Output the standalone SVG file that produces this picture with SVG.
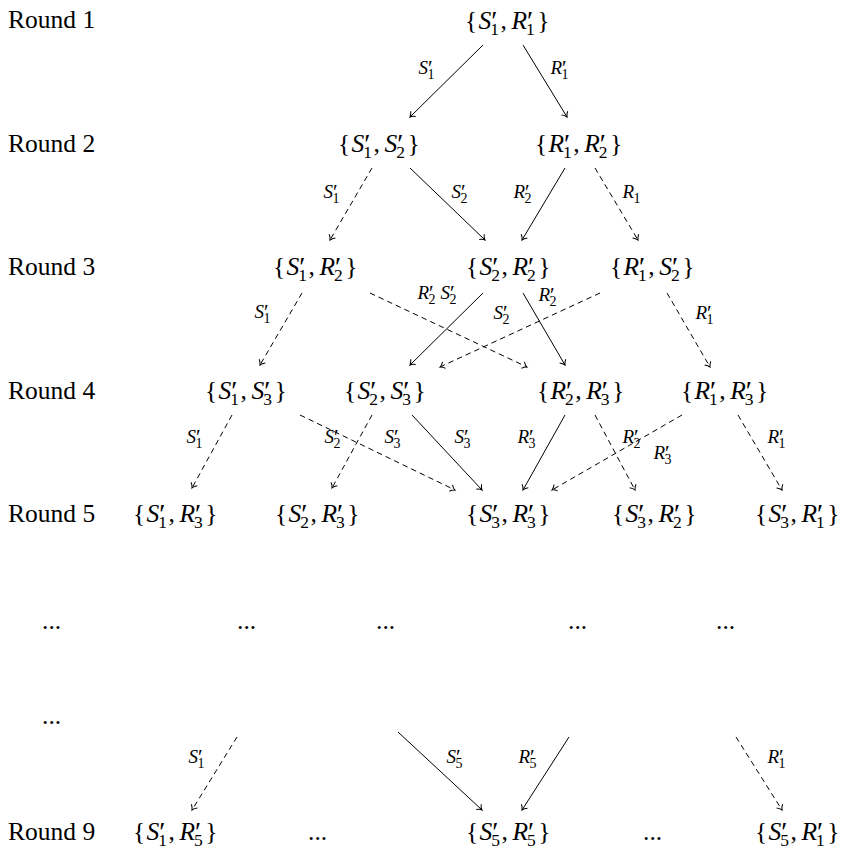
<svg xmlns="http://www.w3.org/2000/svg" width="842" height="853" viewBox="0 0 842 853">
<style>
text{font-family:"Liberation Serif","Times New Roman",serif;fill:#000}
.m{font-size:25.5px}
.i{font-style:italic}
.s{font-size:17.5px}
.p{font-size:28px}
.al{font-size:19px}
.as{font-size:14px}
.ap{font-size:21px}
.e{fill:none;stroke:#000;stroke-width:1;marker-end:url(#ah)}
.d{stroke-dasharray:5.5 4}
</style>
<defs>
<marker id="ah" markerUnits="userSpaceOnUse" viewBox="-6 -5 7 10" refX="0" refY="0" markerWidth="7" markerHeight="10" orient="auto" overflow="visible">
<path d="M-4.5,-3.6 C-3,-1.6 -1.2,-0.4 0,0 C-1.2,0.4 -3,1.6 -4.5,3.6" fill="none" stroke="#000" stroke-width="1" stroke-dasharray="none"/>
</marker>
</defs>
<rect width="842" height="853" fill="#fff"/>
<g id="round-labels">
<text x="8" y="28" class="m">Round 1</text>
<text x="8" y="152" class="m">Round 2</text>
<text x="8" y="275" class="m">Round 3</text>
<text x="8" y="399" class="m">Round 4</text>
<text x="8" y="522" class="m">Round 5</text>
<text x="42" y="629" class="m">...</text>
<text x="42" y="724" class="m">...</text>
<text x="8" y="840" class="m">Round 9</text>
</g>
<g id="n1" transform="translate(465,29)"><text class="m"><tspan x="0">{</tspan><tspan class="i" x="13.5">S</tspan><tspan class="s" x="25.25" y="6">1</tspan><tspan class="p" x="26.25" y="1">′</tspan><tspan x="35.5" y="0">,</tspan><tspan class="i" x="46.4">R</tspan><tspan class="s" x="61" y="6">1</tspan><tspan class="p" x="62" y="1">′</tspan><tspan x="72.2" y="0">}</tspan></text></g>
<g id="n2a" transform="translate(338,152)"><text class="m"><tspan x="0">{</tspan><tspan class="i" x="13.5">S</tspan><tspan class="s" x="25.25" y="6">1</tspan><tspan class="p" x="26.25" y="1">′</tspan><tspan x="35.5" y="0">,</tspan><tspan class="i" x="46.4">S</tspan><tspan class="s" x="58.15" y="6">2</tspan><tspan class="p" x="59.15" y="1">′</tspan><tspan x="69.4" y="0">}</tspan></text></g>
<g id="n2b" transform="translate(535,152)"><text class="m"><tspan x="0">{</tspan><tspan class="i" x="13.5">R</tspan><tspan class="s" x="28.1" y="6">1</tspan><tspan class="p" x="29.1" y="1">′</tspan><tspan x="38.3" y="0">,</tspan><tspan class="i" x="49.2">R</tspan><tspan class="s" x="63.8" y="6">2</tspan><tspan class="p" x="64.8" y="1">′</tspan><tspan x="75" y="0">}</tspan></text></g>
<g id="n3a" transform="translate(273,275)"><text class="m"><tspan x="0">{</tspan><tspan class="i" x="13.5">S</tspan><tspan class="s" x="25.25" y="6">1</tspan><tspan class="p" x="26.25" y="1">′</tspan><tspan x="35.5" y="0">,</tspan><tspan class="i" x="46.4">R</tspan><tspan class="s" x="61" y="6">2</tspan><tspan class="p" x="62" y="1">′</tspan><tspan x="72.2" y="0">}</tspan></text></g>
<g id="n3b" transform="translate(466,275)"><text class="m"><tspan x="0">{</tspan><tspan class="i" x="13.5">S</tspan><tspan class="s" x="25.25" y="6">2</tspan><tspan class="p" x="26.25" y="1">′</tspan><tspan x="35.5" y="0">,</tspan><tspan class="i" x="46.4">R</tspan><tspan class="s" x="61" y="6">2</tspan><tspan class="p" x="62" y="1">′</tspan><tspan x="72.2" y="0">}</tspan></text></g>
<g id="n3c" transform="translate(610,275)"><text class="m"><tspan x="0">{</tspan><tspan class="i" x="13.5">R</tspan><tspan class="s" x="28.1" y="6">1</tspan><tspan class="p" x="29.1" y="1">′</tspan><tspan x="38.3" y="0">,</tspan><tspan class="i" x="49.2">S</tspan><tspan class="s" x="60.95" y="6">2</tspan><tspan class="p" x="61.95" y="1">′</tspan><tspan x="72.2" y="0">}</tspan></text></g>
<g id="n4a" transform="translate(205,399)"><text class="m"><tspan x="0">{</tspan><tspan class="i" x="13.5">S</tspan><tspan class="s" x="25.25" y="6">1</tspan><tspan class="p" x="26.25" y="1">′</tspan><tspan x="35.5" y="0">,</tspan><tspan class="i" x="46.4">S</tspan><tspan class="s" x="58.15" y="6">3</tspan><tspan class="p" x="59.15" y="1">′</tspan><tspan x="69.4" y="0">}</tspan></text></g>
<g id="n4b" transform="translate(344,399)"><text class="m"><tspan x="0">{</tspan><tspan class="i" x="13.5">S</tspan><tspan class="s" x="25.25" y="6">2</tspan><tspan class="p" x="26.25" y="1">′</tspan><tspan x="35.5" y="0">,</tspan><tspan class="i" x="46.4">S</tspan><tspan class="s" x="58.15" y="6">3</tspan><tspan class="p" x="59.15" y="1">′</tspan><tspan x="69.4" y="0">}</tspan></text></g>
<g id="n4c" transform="translate(537,399)"><text class="m"><tspan x="0">{</tspan><tspan class="i" x="13.5">R</tspan><tspan class="s" x="28.1" y="6">2</tspan><tspan class="p" x="29.1" y="1">′</tspan><tspan x="38.3" y="0">,</tspan><tspan class="i" x="49.2">R</tspan><tspan class="s" x="63.8" y="6">3</tspan><tspan class="p" x="64.8" y="1">′</tspan><tspan x="75" y="0">}</tspan></text></g>
<g id="n4d" transform="translate(681,399)"><text class="m"><tspan x="0">{</tspan><tspan class="i" x="13.5">R</tspan><tspan class="s" x="28.1" y="6">1</tspan><tspan class="p" x="29.1" y="1">′</tspan><tspan x="38.3" y="0">,</tspan><tspan class="i" x="49.2">R</tspan><tspan class="s" x="63.8" y="6">3</tspan><tspan class="p" x="64.8" y="1">′</tspan><tspan x="75" y="0">}</tspan></text></g>
<g id="n5a" transform="translate(133,522)"><text class="m"><tspan x="0">{</tspan><tspan class="i" x="13.5">S</tspan><tspan class="s" x="25.25" y="6">1</tspan><tspan class="p" x="26.25" y="1">′</tspan><tspan x="35.5" y="0">,</tspan><tspan class="i" x="46.4">R</tspan><tspan class="s" x="61" y="6">3</tspan><tspan class="p" x="62" y="1">′</tspan><tspan x="72.2" y="0">}</tspan></text></g>
<g id="n5b" transform="translate(275,522)"><text class="m"><tspan x="0">{</tspan><tspan class="i" x="13.5">S</tspan><tspan class="s" x="25.25" y="6">2</tspan><tspan class="p" x="26.25" y="1">′</tspan><tspan x="35.5" y="0">,</tspan><tspan class="i" x="46.4">R</tspan><tspan class="s" x="61" y="6">3</tspan><tspan class="p" x="62" y="1">′</tspan><tspan x="72.2" y="0">}</tspan></text></g>
<g id="n5c" transform="translate(466,522)"><text class="m"><tspan x="0">{</tspan><tspan class="i" x="13.5">S</tspan><tspan class="s" x="25.25" y="6">3</tspan><tspan class="p" x="26.25" y="1">′</tspan><tspan x="35.5" y="0">,</tspan><tspan class="i" x="46.4">R</tspan><tspan class="s" x="61" y="6">3</tspan><tspan class="p" x="62" y="1">′</tspan><tspan x="72.2" y="0">}</tspan></text></g>
<g id="n5d" transform="translate(612,522)"><text class="m"><tspan x="0">{</tspan><tspan class="i" x="13.5">S</tspan><tspan class="s" x="25.25" y="6">3</tspan><tspan class="p" x="26.25" y="1">′</tspan><tspan x="35.5" y="0">,</tspan><tspan class="i" x="46.4">R</tspan><tspan class="s" x="61" y="6">2</tspan><tspan class="p" x="62" y="1">′</tspan><tspan x="72.2" y="0">}</tspan></text></g>
<g id="n5e" transform="translate(755,522)"><text class="m"><tspan x="0">{</tspan><tspan class="i" x="13.5">S</tspan><tspan class="s" x="25.25" y="6">3</tspan><tspan class="p" x="26.25" y="1">′</tspan><tspan x="35.5" y="0">,</tspan><tspan class="i" x="46.4">R</tspan><tspan class="s" x="61" y="6">1</tspan><tspan class="p" x="62" y="1">′</tspan><tspan x="72.2" y="0">}</tspan></text></g>
<g id="dots-row">
<text class="m" x="237" y="629">...</text>
<text class="m" x="376" y="629">...</text>
<text class="m" x="568" y="629">...</text>
<text class="m" x="716" y="629">...</text>
</g>
<g id="n9a" transform="translate(133,840)"><text class="m"><tspan x="0">{</tspan><tspan class="i" x="13.5">S</tspan><tspan class="s" x="25.25" y="6">1</tspan><tspan class="p" x="26.25" y="1">′</tspan><tspan x="35.5" y="0">,</tspan><tspan class="i" x="46.4">R</tspan><tspan class="s" x="61" y="6">5</tspan><tspan class="p" x="62" y="1">′</tspan><tspan x="72.2" y="0">}</tspan></text></g>
<g id="n9b" transform="translate(466,840)"><text class="m"><tspan x="0">{</tspan><tspan class="i" x="13.5">S</tspan><tspan class="s" x="25.25" y="6">5</tspan><tspan class="p" x="26.25" y="1">′</tspan><tspan x="35.5" y="0">,</tspan><tspan class="i" x="46.4">R</tspan><tspan class="s" x="61" y="6">5</tspan><tspan class="p" x="62" y="1">′</tspan><tspan x="72.2" y="0">}</tspan></text></g>
<g id="n9c" transform="translate(755,840)"><text class="m"><tspan x="0">{</tspan><tspan class="i" x="13.5">S</tspan><tspan class="s" x="25.25" y="6">5</tspan><tspan class="p" x="26.25" y="1">′</tspan><tspan x="35.5" y="0">,</tspan><tspan class="i" x="46.4">R</tspan><tspan class="s" x="61" y="6">1</tspan><tspan class="p" x="62" y="1">′</tspan><tspan x="72.2" y="0">}</tspan></text></g>
<g id="dots-r9">
<text class="m" x="308" y="840">...</text>
<text class="m" x="643" y="840">...</text>
</g>
<g id="connectors">
<path class="e" d="M483,45L410,117"/>
<path class="e" d="M523,45L567,117"/>
<path class="e d" d="M372,168L330,240"/>
<path class="e" d="M410,168L485,240"/>
<path class="e" d="M565,168L522,240"/>
<path class="e d" d="M595,168L638,240"/>
<path class="e d" d="M302,293L260,365"/>
<path class="e d" d="M370,293L527,367"/>
<path class="e" d="M483,293L410,365"/>
<path class="e" d="M523,293L565,365"/>
<path class="e d" d="M600,293L440,367"/>
<path class="e d" d="M667,293L710,367"/>
<path class="e d" d="M232,415L192,488"/>
<path class="e d" d="M300,415L455,490"/>
<path class="e d" d="M372,415L332,488"/>
<path class="e" d="M412,415L482,490"/>
<path class="e" d="M565,415L523,490"/>
<path class="e d" d="M595,415L635,490"/>
<path class="e d" d="M682,415L552,490"/>
<path class="e d" d="M738,415L782,490"/>
<path class="e d" d="M237,737L192,810"/>
<path class="e" d="M398,732L482,810"/>
<path class="e" d="M569,737L522,810"/>
<path class="e d" d="M736,737L782,810"/>
</g>
<g id="edge-labels">
<g transform="translate(427,74)"><text class="al"><tspan class="i" x="-8.5">S</tspan><tspan class="as" x="0.5" y="4.5">1</tspan><tspan class="ap" x="1" y="1">′</tspan></text></g>
<g transform="translate(560,74)"><text class="al"><tspan class="i" x="-9.5">R</tspan><tspan class="as" x="1.5" y="4.5">1</tspan><tspan class="ap" x="2" y="1">′</tspan></text></g>
<g transform="translate(332,198)"><text class="al"><tspan class="i" x="-8.5">S</tspan><tspan class="as" x="0.5" y="4.5">1</tspan><tspan class="ap" x="1" y="1">′</tspan></text></g>
<g transform="translate(460,198)"><text class="al"><tspan class="i" x="-8.5">S</tspan><tspan class="as" x="0.5" y="4.5">2</tspan><tspan class="ap" x="1" y="1">′</tspan></text></g>
<g transform="translate(523,198)"><text class="al"><tspan class="i" x="-9.5">R</tspan><tspan class="as" x="1.5" y="4.5">2</tspan><tspan class="ap" x="2" y="1">′</tspan></text></g>
<g transform="translate(632,198)"><text class="al"><tspan class="i" x="-9.5">R</tspan><tspan class="as" x="1.5" y="4.5">1</tspan></text></g>
<g transform="translate(263,318)"><text class="al"><tspan class="i" x="-8.5">S</tspan><tspan class="as" x="0.5" y="4.5">1</tspan><tspan class="ap" x="1" y="1">′</tspan></text></g>
<g transform="translate(427,299)"><text class="al"><tspan class="i" x="-9.5">R</tspan><tspan class="as" x="1.5" y="4.5">2</tspan><tspan class="ap" x="2" y="1">′</tspan></text></g>
<g transform="translate(449,299)"><text class="al"><tspan class="i" x="-8.5">S</tspan><tspan class="as" x="0.5" y="4.5">2</tspan><tspan class="ap" x="1" y="1">′</tspan></text></g>
<g transform="translate(548,301)"><text class="al"><tspan class="i" x="-9.5">R</tspan><tspan class="as" x="1.5" y="4.5">2</tspan><tspan class="ap" x="2" y="1">′</tspan></text></g>
<g transform="translate(502,319)"><text class="al"><tspan class="i" x="-8.5">S</tspan><tspan class="as" x="0.5" y="4.5">2</tspan><tspan class="ap" x="1" y="1">′</tspan></text></g>
<g transform="translate(705,319)"><text class="al"><tspan class="i" x="-9.5">R</tspan><tspan class="as" x="1.5" y="4.5">1</tspan><tspan class="ap" x="2" y="1">′</tspan></text></g>
<g transform="translate(195,443)"><text class="al"><tspan class="i" x="-8.5">S</tspan><tspan class="as" x="0.5" y="4.5">1</tspan><tspan class="ap" x="1" y="1">′</tspan></text></g>
<g transform="translate(333,443)"><text class="al"><tspan class="i" x="-8.5">S</tspan><tspan class="as" x="0.5" y="4.5">2</tspan><tspan class="ap" x="1" y="1">′</tspan></text></g>
<g transform="translate(393,443)"><text class="al"><tspan class="i" x="-8.5">S</tspan><tspan class="as" x="0.5" y="4.5">3</tspan><tspan class="ap" x="1" y="1">′</tspan></text></g>
<g transform="translate(463,443)"><text class="al"><tspan class="i" x="-8.5">S</tspan><tspan class="as" x="0.5" y="4.5">3</tspan><tspan class="ap" x="1" y="1">′</tspan></text></g>
<g transform="translate(527,443)"><text class="al"><tspan class="i" x="-9.5">R</tspan><tspan class="as" x="1.5" y="4.5">3</tspan><tspan class="ap" x="2" y="1">′</tspan></text></g>
<g transform="translate(632,443)"><text class="al"><tspan class="i" x="-9.5">R</tspan><tspan class="as" x="1.5" y="4.5">2</tspan><tspan class="ap" x="2" y="1">′</tspan></text></g>
<g transform="translate(663,459)"><text class="al"><tspan class="i" x="-9.5">R</tspan><tspan class="as" x="1.5" y="4.5">3</tspan><tspan class="ap" x="2" y="1">′</tspan></text></g>
<g transform="translate(777,443)"><text class="al"><tspan class="i" x="-9.5">R</tspan><tspan class="as" x="1.5" y="4.5">1</tspan><tspan class="ap" x="2" y="1">′</tspan></text></g>
<g transform="translate(197,763)"><text class="al"><tspan class="i" x="-8.5">S</tspan><tspan class="as" x="0.5" y="4.5">1</tspan><tspan class="ap" x="1" y="1">′</tspan></text></g>
<g transform="translate(455,763)"><text class="al"><tspan class="i" x="-8.5">S</tspan><tspan class="as" x="0.5" y="4.5">5</tspan><tspan class="ap" x="1" y="1">′</tspan></text></g>
<g transform="translate(528,763)"><text class="al"><tspan class="i" x="-9.5">R</tspan><tspan class="as" x="1.5" y="4.5">5</tspan><tspan class="ap" x="2" y="1">′</tspan></text></g>
<g transform="translate(777,763)"><text class="al"><tspan class="i" x="-9.5">R</tspan><tspan class="as" x="1.5" y="4.5">1</tspan><tspan class="ap" x="2" y="1">′</tspan></text></g>
</g>
</svg>
